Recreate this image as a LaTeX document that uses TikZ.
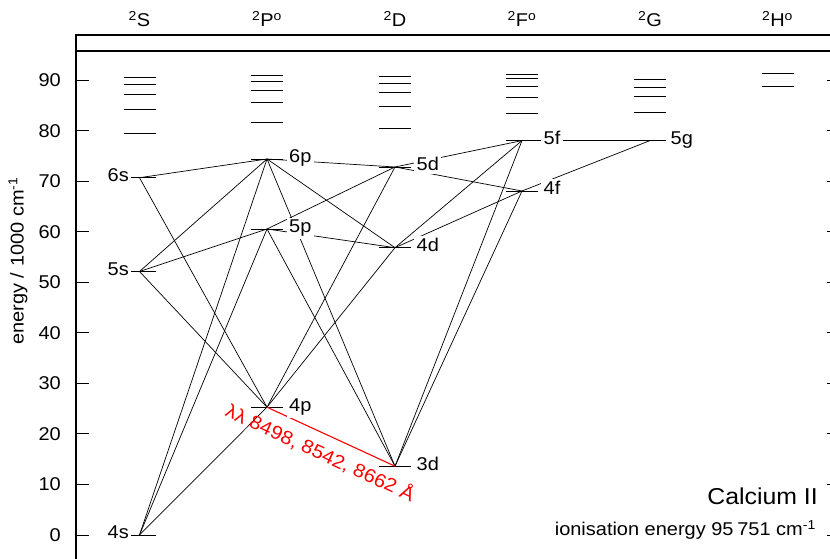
\documentclass[tikz,border=0pt]{standalone}
\usepackage{fontspec}
\setmainfont{Liberation Sans}[FakeStretch=1.08]
\newcommand{\fsz}{\fontsize{18.5}{21}\selectfont}
\newcommand{\fbig}{\fontsize{23}{26}\selectfont}
\begin{document}
\begin{tikzpicture}[x=1pt,y=1pt,
  every node/.style={font=\fsz, text=black},
  lvl/.style={inner sep=0pt, outer sep=0pt, minimum width=32pt, minimum height=0pt},
  bar/.style={line width=0.9pt},
  trans/.style={line width=0.7pt},
  axis/.style={line width=1.2pt},
  lab/.style={fill=white, inner sep=2.5pt},
  labL/.style={lab, anchor=base east},
  labR/.style={lab, anchor=base west},
  hdr/.style={anchor=base, inner sep=0pt},
  tick/.style={line width=0.9pt}
]
\useasboundingbox (0,0) rectangle (830,559);

% frame
\draw[axis] (76,0) -- (76,524) -- (830,524);
\draw[axis] (76,508) -- (830,508);
\foreach \k in {0,...,9}{
  \draw[tick] (76,{24+50.56*\k}) -- (89,{24+50.56*\k});
  \draw[tick] (827,{24+50.56*\k}) -- (830,{24+50.56*\k});
  \node[anchor=base east, inner sep=0pt] (t\k) at (61,{24+50.56*\k-6.5}) {\number\numexpr\k*10\relax};
}
\node[rotate=90, inner sep=0pt] (ylab) at (18,298) {energy / 1000 cm\textsuperscript{-1}};

% headers
\node[hdr] (hS) at (139.5,532.5) {\textsuperscript{2}S};
\node[hdr] (hP) at (267,532.5) {\textsuperscript{2}P\textsuperscript{o}};
\node[hdr] (hD) at (395,532.5) {\textsuperscript{2}D};
\node[hdr] (hF) at (522,532.5) {\textsuperscript{2}F\textsuperscript{o}};
\node[hdr] (hG) at (650,532.5) {\textsuperscript{2}G};
\node[hdr] (hH) at (777.5,532.5) {\textsuperscript{2}H\textsuperscript{o}};

% unlabelled upper levels
\foreach \x/\y in {139.5/481.3,139.5/474.7,139.5/464.7,139.5/449.7,139.5/425.7,
                   267/483.3,267/477.3,267/469,267/456.3,267/436.3,
                   395/482.3,395/475.7,395/466.7,395/453,395/430.7,
                   522/485,522/480.7,522/473,522/462,522/445.7,
                   650/480,650/471.7,650/462.3,650/446.3,
                   777.5/485.5,777.5/472.5}{
  \draw[bar] (\x-16,\y) -- (\x+16,\y);
}

% labelled levels
\node[lvl] (L4s) at (139.5,24) {};
\node[lvl] (L5s) at (139.5,287.5) {};
\node[lvl] (L6s) at (139.5,381.3) {};
\node[lvl] (L4p) at (267,151.8) {};
\node[lvl] (L5p) at (267,330) {};
\node[lvl] (L6p) at (267,400) {};
\node[lvl] (L3d) at (395,92.8) {};
\node[lvl] (L4d) at (395,311.3) {};
\node[lvl] (L5d) at (395,392) {};
\node[lvl] (L4f) at (522,368) {};
\node[lvl] (L5f) at (522,418.4) {};
\node[lvl] (L5g) at (650,418.4) {};
\foreach \n in {L4s,L5s,L6s,L4p,L5p,L6p,L3d,L4d,L5d,L4f,L5f,L5g}{
  \draw[bar] (\n.west) -- (\n.east);
}

% transitions
\foreach \a/\b in {L4s/L4p,L4s/L5p,L4s/L6p,
                   L5s/L4p,L5s/L5p,L5s/L6p,
                   L6s/L4p,L6s/L6p,
                   L4p/L4d,L4p/L5d,
                   L3d/L5p,L3d/L6p,L3d/L4f,L3d/L5f,
                   L5p/L4d,L5p/L5d,
                   L6p/L4d,L6p/L5d,
                   L4d/L4f,L4d/L5f,
                   L5d/L4f,L5d/L5f,
                   L4f/L5g,L5f/L5g}{
  \draw[trans] (\a.center) -- (\b.center);
}
\draw[red, line width=1.1pt] (L4p.center) -- (L3d.center);
\node[text=red, rotate=-24.75, inner sep=0pt, font=\fontsize{19}{21}\selectfont] (redlab) at (320.5,106.5) {λλ 8498, 8542, 8662 Å};

% level labels
\node[labL] (t4s) at (131.5,24-4) {4s};
\node[labL] (t5s) at (131.5,287.5-4) {5s};
\node[labL] (t6s) at (131.5,381.3-4) {6s};
\node[labR] (t4p) at (286.5,151.8-4) {4p};
\node[labR] (t5p) at (286.5,330-4) {5p};
\node[labR] (t6p) at (286.5,400-4) {6p};
\node[labR] (t3d) at (414,92.8-4) {3d};
\node[labR] (t4d) at (414,311.3-4) {4d};
\node[labR] (t5d) at (414,392-4) {5d};
\node[labR] (t4f) at (541,368-4) {4f};
\node[labR] (t5f) at (541,418.4-4) {5f};
\node[labR] (t5g) at (668,418.4-4) {5g};

% titles
\node[anchor=base east, inner sep=0pt, font=\fbig] (title) at (818,54) {Calcium II};
\node[anchor=base east, inner sep=0pt] (ion) at (816,23) {ionisation energy 95\hspace{0.2em}751 cm\textsuperscript{-1}};
\end{tikzpicture}
\end{document}
